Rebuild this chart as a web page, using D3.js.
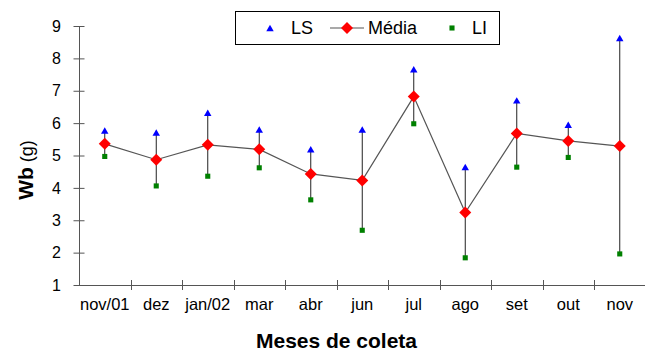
<!DOCTYPE html>
<html>
<head>
<meta charset="utf-8">
<script src="https://cdn.jsdelivr.net/npm/d3@7"></script>
<style>
  body { margin: 0; background: #fff; }
  text { font-family: Arial, "Liberation Sans", sans-serif; }
</style>
</head>
<body>
<div id="chart"></div>
<script>
// monthly Wb values: upper limit, mean, lower limit

const months = ["nov/01", "dez", "jan/02", "mar", "abr", "jun", "jul", "ago", "set", "out", "nov"];
const ls    = [5.77, 5.71, 6.32, 5.80, 5.19, 5.80, 7.66, 4.64, 6.70, 5.95, 8.63];
const media = [5.36, 4.87, 5.33, 5.19, 4.43, 4.23, 6.82, 3.24, 5.68, 5.45, 5.29];
const li    = [4.97, 4.06, 4.36, 4.62, 3.63, 2.69, 5.98, 1.84, 4.64, 4.94, 1.96];
const yTicks = [1, 2, 3, 4, 5, 6, 7, 8, 9];

const width = 645, height = 351;

const data = months.map((m, i) => ({ month: m, ls: ls[i], media: media[i], li: li[i] }));

const svg = d3.select("#chart").append("svg")
  .attr("width", width)
  .attr("height", height);

const x = d3.scaleBand()
  .domain(months)
  .range([79, 645.5])
  .padding(0);

const y = d3.scaleLinear()
  .domain([1, 9])
  .range([285, 26]);

const axisColor = "#555";

// y axis, ticks cross the line
const yAxis = svg.append("g")
  .attr("transform", `translate(${x.range()[0]},0)`)
  .call(d3.axisLeft(y).tickValues(yTicks).tickSize(6).tickPadding(12).tickFormat(d3.format("d")));
yAxis.select(".domain").attr("stroke", axisColor).attr("d", `M0.5,${y(9)}V${y(1)}`);
yAxis.selectAll(".tick line").attr("stroke", axisColor).attr("x1", 5.5).attr("x2", -5.5);
yAxis.selectAll(".tick text").attr("font-size", 16).attr("fill", "#000");

// x axis: labels centred in bands, ticks at band edges
const xAxis = svg.append("g")
  .attr("transform", `translate(0,${y(1)})`)
  .call(d3.axisBottom(x).tickSize(0).tickPadding(13));
xAxis.select(".domain").attr("stroke", axisColor).attr("d", `M${x.range()[0]},0.5H${width}`);
xAxis.selectAll(".tick text").attr("font-size", 16.5).attr("fill", "#000");

svg.append("g").selectAll("line")
  .data(months.slice(1))
  .join("line")
  .attr("x1", d => Math.round(x(d)) + 0.5)
  .attr("x2", d => Math.round(x(d)) + 0.5)
  .attr("y1", y(1) - 5)
  .attr("y2", y(1) + 5)
  .attr("stroke", axisColor);

// vertical range lines LS..LI
svg.append("g").selectAll("line")
  .data(data)
  .join("line")
  .attr("x1", d => x(d.month) + x.bandwidth() / 2)
  .attr("x2", d => x(d.month) + x.bandwidth() / 2)
  .attr("y1", d => y(d.ls))
  .attr("y2", d => y(d.li))
  .attr("stroke", "#222")
  .attr("stroke-width", 1);

// mean line
const line = d3.line()
  .x(d => x(d.month) + x.bandwidth() / 2)
  .y(d => y(d.media));

svg.append("path")
  .datum(data)
  .attr("d", line)
  .attr("fill", "none")
  .attr("stroke", "#555")
  .attr("stroke-width", 1.2);

const tri = d3.symbol().type(d3.symbolTriangle).size(24);
const sq = d3.symbol().type(d3.symbolSquare).size(26);
const dia = d3.symbol().type(d3.symbolSquare).size(72);

svg.append("g").selectAll("path")
  .data(data)
  .join("path")
  .attr("d", tri)
  .attr("fill", "#0000ff")
  .attr("transform", d => `translate(${x(d.month) + x.bandwidth() / 2},${y(d.ls) + 1})`);

svg.append("g").selectAll("path")
  .data(data)
  .join("path")
  .attr("d", sq)
  .attr("fill", "#008000")
  .attr("transform", d => `translate(${x(d.month) + x.bandwidth() / 2},${y(d.li)})`);

svg.append("g").selectAll("path")
  .data(data)
  .join("path")
  .attr("d", dia)
  .attr("fill", "#ff0000")
  .attr("transform", d => `translate(${x(d.month) + x.bandwidth() / 2},${y(d.media)}) rotate(45)`);

// axis titles
const yt = svg.append("text")
  .attr("transform", "translate(33,170) rotate(-90)")
  .attr("text-anchor", "middle")
  .attr("fill", "#000");
yt.append("tspan").attr("font-weight", "bold").attr("font-size", 21).text("Wb");
yt.append("tspan").attr("font-size", 18).text(" (g)");

svg.append("text")
  .attr("x", 336.5)
  .attr("y", 348)
  .attr("text-anchor", "middle")
  .attr("font-weight", "bold")
  .attr("font-size", 21)
  .attr("fill", "#000")
  .text("Meses de coleta");

// legend
const legend = svg.append("g");
legend.append("rect")
  .attr("x", 235.5).attr("y", 11.5)
  .attr("width", 264).attr("height", 33)
  .attr("fill", "#fff").attr("stroke", "#000");

legend.append("path").attr("d", tri).attr("fill", "#0000ff")
  .attr("transform", "translate(270,29)");
legend.append("text").attr("x", 291).attr("y", 34).attr("font-size", 18).text("LS");

legend.append("line").attr("x1", 330).attr("x2", 364).attr("y1", 28).attr("y2", 28)
  .attr("stroke", "#555").attr("stroke-width", 1.2);
legend.append("path").attr("d", dia).attr("fill", "#ff0000")
  .attr("transform", "translate(347,28) rotate(45)");
legend.append("text").attr("x", 368).attr("y", 34).attr("font-size", 18).text("Média");

legend.append("path").attr("d", sq).attr("fill", "#008000")
  .attr("transform", "translate(452,28)");
legend.append("text").attr("x", 472).attr("y", 34).attr("font-size", 18).text("LI");
</script>
</body>
</html>
